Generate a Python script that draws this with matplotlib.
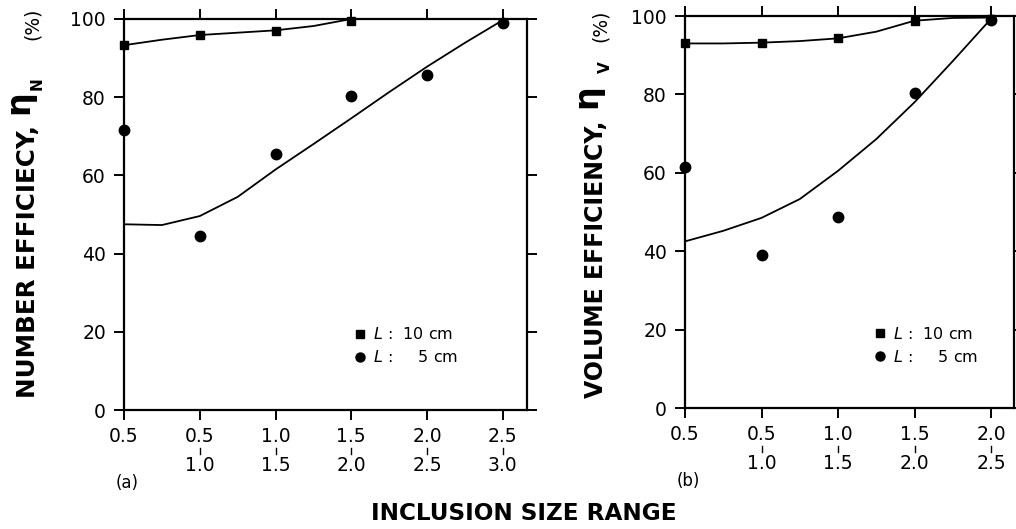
import matplotlib
matplotlib.use("Agg")
import matplotlib.pyplot as plt
from matplotlib.lines import Line2D
import matplotlib.transforms as mtransforms

plt.rcParams['font.family'] = ['DejaVu Sans']
plt.rcParams['mathtext.fontset'] = 'dejavusans'

# ---------------- data: panel (a) number efficiency ----------------
pos_a = [0, 1, 2, 3, 4, 5]
low_a = ["0.5", "0.5", "1.0", "1.5", "2.0", "2.5"]
high_a = ["", "1.0", "1.5", "2.0", "2.5", "3.0"]
num_10cm = [93.3, 95.9, 96.9, 99.6]
num_5cm = [71.5, 44.5, 65.5, 80.3, 85.6, 99.0]
num_fit_x = [0, 0.5, 1, 1.5, 2, 2.5, 3, 3.5, 4, 4.5, 5]
num_fit_5cm = [47.5, 47.3, 49.6, 54.5, 61.5, 68.0, 74.6, 81.3, 87.8, 93.9, 99.7]
num_fit10_x = [0, 0.5, 1, 1.5, 2, 2.5, 3]
num_fit_10cm = [93.3, 94.7, 95.9, 96.5, 97.1, 98.2, 100.0]

# ---------------- data: panel (b) volume efficiency ----------------
pos_b = [0, 1, 2, 3, 4]
low_b = ["0.5", "0.5", "1.0", "1.5", "2.0"]
high_b = ["", "1.0", "1.5", "2.0", "2.5"]
vol_10cm = [93.0, 93.2, 94.3, 98.8, 99.2]
vol_5cm = [61.6, 39.0, 48.6, 80.3, 99.0]
vol_fit_x = [0, 0.5, 1, 1.5, 2, 2.5, 3, 3.5, 4]
vol_fit_5cm = [42.5, 45.2, 48.5, 53.3, 60.5, 68.6, 78.0, 88.5, 99.3]
vol_fit_10cm = [93.0, 93.0, 93.2, 93.6, 94.3, 96.0, 98.8, 99.5, 99.6]

yticks = [0, 20, 40, 60, 80, 100]
leg_labels = [r"$\it{L}$ :  10 cm", r"$\it{L}$ :     5 cm"]

W, H = 1016, 529
fig = plt.figure(figsize=(W / 100, H / 100), dpi=100)


def fx(px):
    return px / W


def fy(py):
    return 1 - py / H


def setup(ax, pos, low, high, xmax):
    ax.set_xlim(0, xmax)
    ax.set_ylim(0, 100)
    for s in ax.spines.values():
        s.set_linewidth(1.6)
    ax.set_yticks(yticks)
    ax.set_yticklabels([str(v) for v in yticks], fontsize=13.5)
    ax.set_xticks(pos)
    ax.set_xticklabels([f"{a}\n{b}" for a, b in zip(low, high)],
                       fontsize=13.5, linespacing=1.7)
    ax.tick_params(axis='both', direction='out', width=1.4, length=7,
                   top=True, right=True, labeltop=False, labelright=False)
    ax.tick_params(axis='x', pad=5)
    ax.tick_params(axis='y', pad=6)
    trans = mtransforms.blended_transform_factory(ax.transData, ax.transAxes)
    for p, b in zip(pos, high):
        if b:
            ax.add_line(Line2D([p, p], [-0.096, -0.112], transform=trans,
                               color='black', lw=1.0, clip_on=False))


def draw(ax, xs, ten, five, fx10, fit10, fx5, fit5):
    ax.plot(fx10, fit10, color='black', lw=1.3, clip_on=False)
    ax.plot(fx5, fit5, color='black', lw=1.3, clip_on=False)
    ax.plot(xs[:len(ten)], ten, 's', color='black', ms=6, clip_on=False, zorder=5)
    ax.plot(xs[:len(five)], five, 'o', color='black', ms=7.5, clip_on=False, zorder=5)


# panel (a)
axa = fig.add_axes([fx(124), fy(410), fx(527) - fx(124), fy(19) - fy(410)])
setup(axa, pos_a, low_a, high_a, 5.32)
draw(axa, pos_a, num_10cm, num_5cm, num_fit10_x, num_fit_10cm, num_fit_x, num_fit_5cm)

# panel (b)
axb = fig.add_axes([fx(685), fy(408), fx(1014) - fx(685), fy(16) - fy(408)])
setup(axb, pos_b, low_b, high_b, 4.30)
draw(axb, pos_b, vol_10cm, vol_5cm, vol_fit_x, vol_fit_10cm, vol_fit_x, vol_fit_5cm)

handles = [Line2D([], [], marker='s', ls='none', color='black', ms=5.5),
           Line2D([], [], marker='o', ls='none', color='black', ms=6.5)]
for ax, anchor in ((axa, (0.555, 0.235)), (axb, (0.555, 0.23))):
    ax.legend(handles, leg_labels, loc='upper left', bbox_to_anchor=anchor,
              frameon=False, borderpad=0, handlelength=0.6, handletextpad=0.5,
              labelspacing=0.45, prop={'size': 11.5})


# y labels built from pieces
def ylabel(x_base, y_end, main, size, sub, y_eta, y_sub, y_pct):
    fig.text(fx(x_base), fy(y_end), main, rotation=90, rotation_mode='anchor',
             ha='right', va='baseline', fontsize=size, fontweight='bold')
    fig.text(fx(x_base - 7), fy(y_eta), "η", rotation=90, rotation_mode='anchor',
             ha='left', va='baseline', fontsize=24, fontweight='bold')
    fig.text(fx(x_base + 7), fy(y_sub), sub, rotation=90, rotation_mode='anchor',
             ha='left', va='baseline', fontsize=11, fontweight='bold')
    fig.text(fx(x_base + 3), fy(y_pct), "(%)", rotation=90, rotation_mode='anchor',
             ha='left', va='baseline', fontsize=13.5)


ylabel(35, 125, "NUMBER EFFICIECY,", 17.7, "N", 114, 90, 40)
ylabel(603, 121, "VOLUME EFFICIENCY,", 17.0, "V", 108, 73, 42)

fig.text(fx(127), fy(483), "(a)", ha='center', va='center', fontsize=12)
fig.text(fx(688), fy(481), "(b)", ha='center', va='center', fontsize=12)
fig.text(fx(524), fy(513), "INCLUSION SIZE RANGE", ha='center', va='center',
         fontsize=16.7, fontweight='bold')

fig.savefig("out.png", dpi=100)
